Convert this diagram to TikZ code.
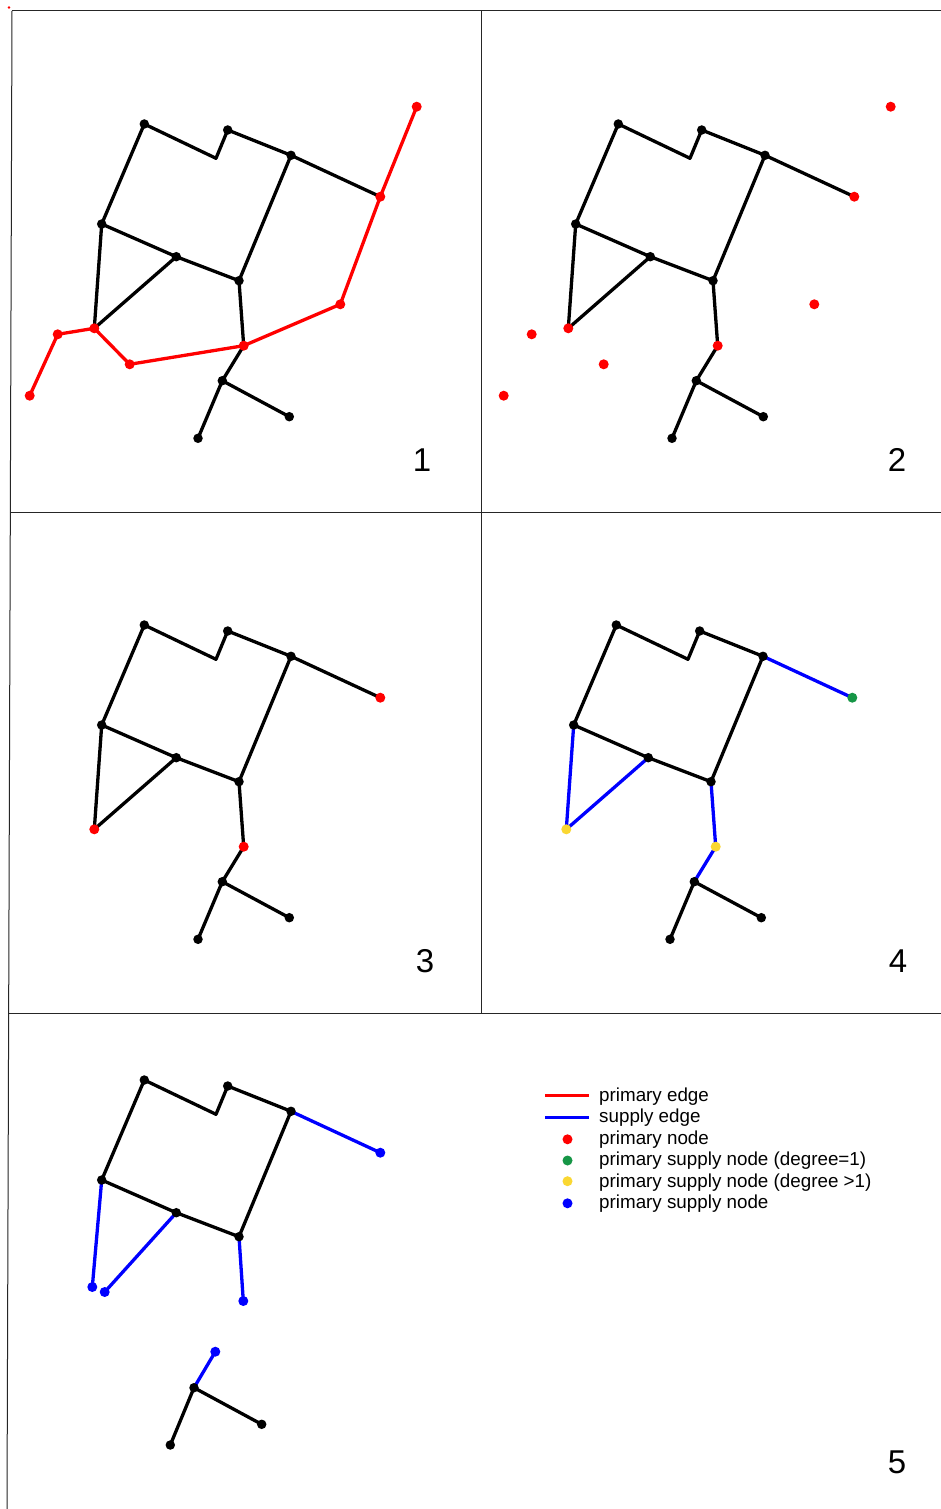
\documentclass[tikz,border=0pt]{standalone}
\usepackage{fontspec}
\setmainfont{Liberation Sans}
\usetikzlibrary{backgrounds}
\definecolor{pred}{RGB}{255,0,0}
\definecolor{pblue}{RGB}{0,0,255}
\definecolor{pgreen}{RGB}{22,150,70}
\definecolor{pyellow}{RGB}{250,215,50}
\tikzset{
  ndot/.style={circle,fill=#1,draw=none,inner sep=0pt,minimum size=9.5pt},
  bk/.style={ndot=black,minimum size=9.5pt},
  rd/.style={ndot=pred,minimum size=10pt},
  bl/.style={ndot=pblue,minimum size=10pt},
  gr/.style={ndot=pgreen,minimum size=10pt},
  yl/.style={ndot=pyellow,minimum size=10pt},
  edge/.style={line width=3.3pt,black,line join=round},
  redge/.style={line width=3.3pt,pred,line join=round},
  bedge/.style={line width=3.3pt,pblue,line join=round},
  frameline/.style={line width=1pt,black!85},
  num/.style={font=\fontsize{33}{36}\selectfont,inner sep=0pt},
  leg/.style={font=\fontsize{18.8}{21}\selectfont,anchor=base west,inner sep=0pt},
}
\newcommand\corenet[1]{%
  \node[bk] (#1A) at (144.3,124) {};
  \node[bk] (#1B) at (227.7,130) {};
  \coordinate (#1n) at (216,158.3);
  \node[bk] (#1C) at (291,155.3) {};
  \node[bk] (#1F) at (101.7,224) {};
  \node[bk] (#1G) at (176.3,256.7) {};
  \node[bk] (#1H) at (239,280.7) {};
}
\newcommand\coreedges[1]{%
  \draw[edge] (#1F.center) -- (#1A.center) -- (#1n) -- (#1B.center) -- (#1C.center) -- (#1H.center) -- (#1G.center) -- (#1F.center);
}
\newcommand\treenodes[1]{%
  \node[bk] (#1O) at (222.3,380.7) {};
  \node[bk] (#1P) at (289.3,416.7) {};
  \node[bk] (#1Q) at (198,438.3) {};
}
\begin{document}
\begin{tikzpicture}[x=1pt,y=-1pt]
\begin{scope}[on background layer]
  \fill[white] (0,0) rectangle (941,1509);
\end{scope}
\useasboundingbox (0,0) rectangle (941,1509);
% frame
\draw[frameline] (12,11) -- (941,11);
\draw[frameline] (12,11) -- (7,1509);
\draw[frameline] (481,11) -- (481,1013);
\draw[frameline] (10.3,512) -- (941,512);
\draw[frameline] (8.6,1013) -- (941,1013);
\fill[pred] (9,7.5) circle (1.4);

% ---------- panel 1
\begin{scope}
  \corenet{a}\treenodes{a}
  \node[rd] (aD) at (380.3,196.7) {};
  \node[rd] (aE) at (416.7,106.7) {};
  \node[rd] (aI) at (340.3,304.3) {};
  \node[rd] (aJ) at (243.7,345.7) {};
  \node[rd] (aK) at (94.3,328.3) {};
  \node[rd] (aL) at (57.7,334.3) {};
  \node[rd] (aM) at (29.7,395.7) {};
  \node[rd] (aN) at (129.7,364.3) {};
  \node[num] (lab1) at (422,460) {1};
\end{scope}
\begin{scope}[on background layer]
  \coreedges{a}
  \draw[edge] (aC.center) -- (aD.center);
  \draw[edge] (aF.center) -- (aK.center);
  \draw[edge] (aG.center) -- (aK.center);
  \draw[edge] (aH.center) -- (aJ.center);
  \draw[edge] (aJ.center) -- (aO.center);
  \draw[edge] (aO.center) -- (aP.center);
  \draw[edge] (aO.center) -- (aQ.center);
  \draw[redge] (aE.center) -- (aD.center) -- (aI.center) -- (aJ.center) -- (aN.center) -- (aK.center) -- (aL.center) -- (aM.center);
\end{scope}

% ---------- panel 2
\begin{scope}[shift={(474,0)}]
  \corenet{b}\treenodes{b}
  \node[rd] (bD) at (380.3,196.7) {};
  \node[rd] (bE) at (416.7,106.7) {};
  \node[rd] (bI) at (340.3,304.3) {};
  \node[rd] (bJ) at (243.7,345.7) {};
  \node[rd] (bK) at (94.3,328.3) {};
  \node[rd] (bL) at (57.7,334.3) {};
  \node[rd] (bM) at (29.7,395.7) {};
  \node[rd] (bN) at (129.7,364.3) {};
  \node[num] (lab2) at (423,460) {2};
\end{scope}
\begin{scope}[on background layer]
  \coreedges{b}
  \draw[edge] (bC.center) -- (bD.center);
  \draw[edge] (bF.center) -- (bK.center);
  \draw[edge] (bG.center) -- (bK.center);
  \draw[edge] (bH.center) -- (bJ.center);
  \draw[edge] (bJ.center) -- (bO.center);
  \draw[edge] (bO.center) -- (bP.center);
  \draw[edge] (bO.center) -- (bQ.center);
\end{scope}

% ---------- panel 3
\begin{scope}[shift={(0,501)}]
  \corenet{c}\treenodes{c}
  \node[rd] (cD) at (380.3,196.7) {};
  \node[rd] (cJ) at (243.7,345.7) {};
  \node[rd] (cK) at (94.3,328.3) {};
  \node[num] (lab3) at (425,460) {3};
\end{scope}
\begin{scope}[on background layer]
  \coreedges{c}
  \draw[edge] (cC.center) -- (cD.center);
  \draw[edge] (cF.center) -- (cK.center);
  \draw[edge] (cG.center) -- (cK.center);
  \draw[edge] (cH.center) -- (cJ.center);
  \draw[edge] (cJ.center) -- (cO.center);
  \draw[edge] (cO.center) -- (cP.center);
  \draw[edge] (cO.center) -- (cQ.center);
\end{scope}

% ---------- panel 4
\begin{scope}[shift={(472,501)}]
  \corenet{d}\treenodes{d}
  \node[gr] (dD) at (380.3,196.7) {};
  \node[yl] (dJ) at (243.7,345.7) {};
  \node[yl] (dK) at (94.3,328.3) {};
  \node[num] (lab4) at (426,460) {4};
\end{scope}
\begin{scope}[on background layer]
  \coreedges{d}
  \draw[edge] (dO.center) -- (dP.center);
  \draw[edge] (dO.center) -- (dQ.center);
  \draw[bedge] (dC.center) -- (dD.center);
  \draw[bedge] (dF.center) -- (dK.center);
  \draw[bedge] (dG.center) -- (dK.center);
  \draw[bedge] (dH.center) -- (dJ.center);
  \draw[bedge] (dJ.center) -- (dO.center);
\end{scope}

% ---------- panel 5
\begin{scope}[shift={(0,956)}]
  \corenet{e}
  \node[bl] (eD) at (380.3,196.7) {};
  \node[bl] (eK1) at (92.3,331) {};
  \node[bl] (eK2) at (104.7,336) {};
  \node[bl] (eJ) at (243.3,345) {};
  \node[bl] (eJt) at (215.3,395.7) {};
  \node[bk] (eO) at (194,431.7) {};
  \node[bk] (eP) at (261.7,468.3) {};
  \node[bk] (eQ) at (170.3,489) {};
  \node[num] (lab5) at (897,506) {5};
\end{scope}
\begin{scope}[on background layer]
  \coreedges{e}
  \draw[edge] (eO.center) -- (eP.center);
  \draw[edge] (eO.center) -- (eQ.center);
  \draw[bedge] (eC.center) -- (eD.center);
  \draw[bedge] (eF.center) -- (eK1.center);
  \draw[bedge] (eG.center) -- (eK2.center);
  \draw[bedge] (eH.center) -- (eJ.center);
  \draw[bedge] (eJt.center) -- (eO.center);
\end{scope}

% ---------- legend
\coordinate (l1a) at (545,1095.5);
\coordinate (l1b) at (589,1095.5);
\coordinate (l2a) at (545,1117.3);
\coordinate (l2b) at (589,1117.3);
\draw[redge] (l1a) -- (l1b);
\draw[bedge] (l2a) -- (l2b);
\node[rd] (lg3) at (567.5,1139.3) {};
\node[gr] (lg4) at (567.5,1160.5) {};
\node[yl] (lg5) at (567.5,1181.2) {};
\node[bl] (lg6) at (567.5,1203.3) {};
\node[leg] (t1) at (599,1101) {primary edge};
\node[leg] (t2) at (599,1122.6) {supply edge};
\node[leg] (t3) at (599,1144.2) {primary node};
\node[leg] (t4) at (599,1165.6) {primary supply node (degree=1)};
\node[leg] (t5) at (599,1187) {primary supply node (degree >1)};
\node[leg] (t6) at (599,1208.4) {primary supply node};
\end{tikzpicture}
\end{document}
